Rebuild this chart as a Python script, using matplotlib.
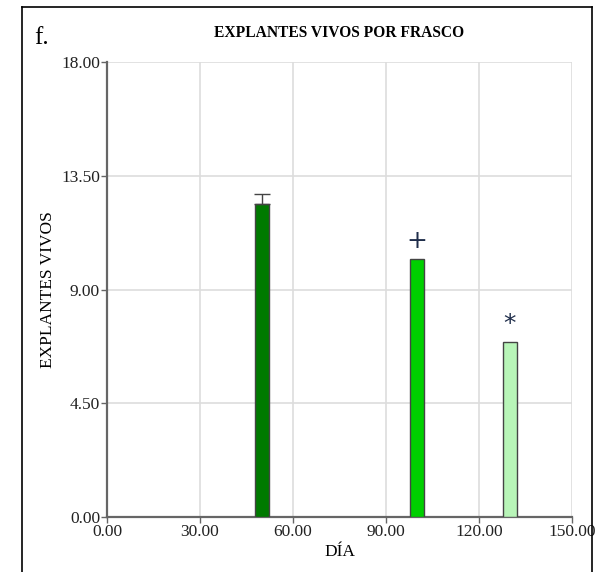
import matplotlib.pyplot as plt
import numpy as np

plt.rcParams['font.family'] = ['Liberation Serif', 'DejaVu Serif']

# live explants per flask, by day
dias = [50, 100, 130]
vivos = [12.38, 10.2, 6.92]
error = [0.40, 0, 0]
colores = ['#007A00', '#00D000', '#B8F5B8']
marcas = ['', '+', '*']

xticks = [0, 30, 60, 90, 120, 150]
yticks = [0, 4.5, 9, 13.5, 18]

fig = plt.figure(figsize=(6.08, 5.72), dpi=100)
ax = fig.add_axes([107 / 608, 1 - 517 / 572, 465 / 608, 455 / 572])

ax.bar(dias, vivos, width=4.5, color=colores, edgecolor='#444444', linewidth=1.0, zorder=3)
for d, v, e in zip(dias, vivos, error):
    if e > 0:
        ax.errorbar(d, v, yerr=[[0], [e]], fmt='none', ecolor='#444444',
                    elinewidth=1.0, capsize=5.5, capthick=1.0, zorder=4)

# significance markers above the bars
for d, v, m in zip(dias, vivos, marcas):
    if m:
        ax.text(d, v + 0.25, m, ha='center', va='bottom', fontsize=18,
                color='#1f2d4a', family=['DejaVu Sans'])

ax.set_xlim(0, 150)
ax.set_ylim(0, 18)
ax.set_xticks(xticks)
ax.set_yticks(yticks)
ax.set_xticklabels(['%.2f' % t for t in xticks], fontsize=12.5)
ax.set_yticklabels(['%.2f' % t for t in yticks], fontsize=12.5)
ax.grid(True, color='#dddddd', linewidth=1.2, zorder=0)
ax.set_axisbelow(True)

for s in ['top', 'right']:
    ax.spines[s].set_visible(False)
for s in ['left', 'bottom']:
    ax.spines[s].set_color('#666666')
    ax.spines[s].set_linewidth(1.6)
ax.tick_params(direction='out', length=4, width=1.0, color='#666666', pad=1,
               labelcolor='#222222')

ax.set_xlabel('DÍA', fontsize=12.5, labelpad=3)
ax.set_ylabel('EXPLANTES VIVOS', fontsize=12.5, labelpad=4)
ax.set_title('EXPLANTES VIVOS POR FRASCO', fontsize=11.2, fontweight='bold', pad=18)

fig.text(34 / 608, 1 - 38 / 572, 'f.', fontsize=18, va='center')

# panel frame, open at the bottom
fig.add_artist(plt.Line2D([22 / 608, 22 / 608], [0, 1 - 7 / 572], color='black', lw=1.2,
                          transform=fig.transFigure))
fig.add_artist(plt.Line2D([592 / 608, 592 / 608], [0, 1 - 7 / 572], color='black', lw=1.2,
                          transform=fig.transFigure))
fig.add_artist(plt.Line2D([22 / 608, 592 / 608], [1 - 7 / 572, 1 - 7 / 572], color='black', lw=1.2,
                          transform=fig.transFigure))

fig.savefig('out.png', dpi=100)
